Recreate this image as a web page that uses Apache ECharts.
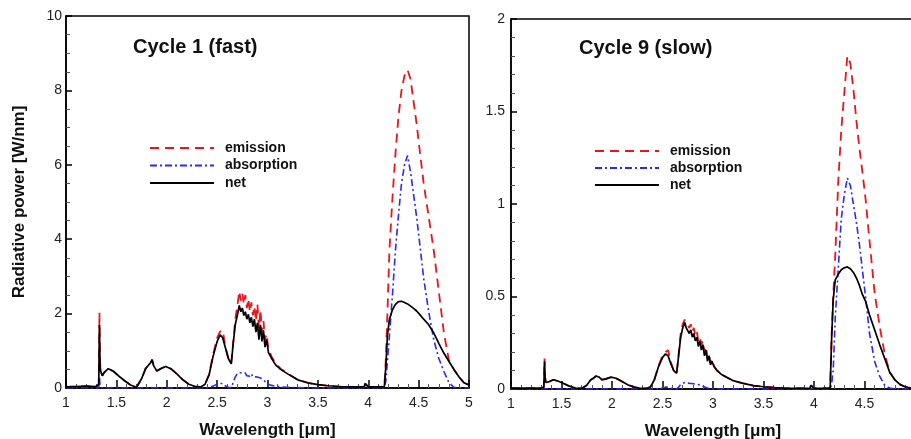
<!DOCTYPE html>
<html>
<head>
<meta charset="utf-8">
<script src="https://cdn.jsdelivr.net/npm/echarts@6/dist/echarts.min.js"></script>
<style>
html,body{margin:0;padding:0;background:#fff;}
#chart{width:911px;height:439px;}
</style>
</head>
<body>
<div id="chart"></div>
<script>
// ---- data ----
const wavelength = [1.00,1.10,1.20,1.30, 1.325,1.332,1.338,1.345, 1.36,1.38,1.42,1.47, 1.52,1.58,1.64,1.70,
  1.75,1.79,1.82,1.84, 1.855,1.87,1.90,1.94, 1.99,2.04,2.10,2.16, 2.22,2.28,2.34,2.38,
  2.42,2.46,2.50,2.53, 2.555,2.58,2.61,2.64, 2.66,2.68,2.70,2.72, 2.735,2.75,2.765,2.78,
  2.795,2.81,2.825,2.84, 2.855,2.87,2.885,2.90, 2.915,2.93,2.945,2.96, 2.975,2.99,3.01,3.04,
  3.08,3.13,3.20,3.30, 3.40,3.50,3.60,3.70, 3.80,3.90,3.96,3.97, 4.00,4.10,4.16,4.175,
  4.19,4.21,4.24,4.27, 4.30,4.33,4.36,4.39, 4.42,4.45,4.48,4.51, 4.55,4.60,4.65,4.70,
  4.75,4.80,4.85,4.90, 4.95,5.00];

const cycle1Net = [0.03,0.04,0.05,0.04, 0.10,1.69,0.60,0.45, 0.33,0.42,0.52,0.45, 0.33,0.20,0.08,0.02,
  0.25,0.52,0.62,0.68, 0.76,0.60,0.46,0.52, 0.58,0.52,0.38,0.22, 0.10,0.04,0.03,0.10,
  0.35,0.85,1.25,1.43, 1.35,1.10,0.80,0.65, 1.20,1.70,1.95,2.22, 2.05,2.15,1.95,2.05,
  1.85,1.98,1.75,1.90, 1.65,1.85,1.50,1.75, 1.30,1.70,1.25,1.55, 1.10,1.30,0.95,0.80,
  0.62,0.50,0.38,0.22, 0.14,0.09,0.06,0.04, 0.03,0.03,0.03,0.12, 0.03,0.03,0.04,0.60,
  1.40,1.85,2.10,2.25, 2.32,2.33,2.30,2.26, 2.20,2.14,2.07,1.98, 1.85,1.70,1.48,1.20,
  0.94,0.72,0.50,0.30, 0.14,0.08];

const cycle1Emission = [0.03,0.04,0.05,0.04, 0.10,2.02,0.70,0.45, 0.33,0.42,0.52,0.45, 0.33,0.20,0.08,0.02,
  0.25,0.52,0.62,0.68, 0.76,0.60,0.46,0.52, 0.58,0.52,0.38,0.22, 0.10,0.04,0.03,0.10,
  0.37,0.90,1.35,1.52, 1.55,1.15,0.82,0.66, 1.25,1.85,2.20,2.60, 2.35,2.55,2.25,2.50,
  2.15,2.40,2.05,2.30, 1.95,2.20,1.80,2.25, 1.60,2.10,1.50,1.80, 1.30,1.45,1.05,0.85,
  0.66,0.52,0.39,0.22, 0.14,0.09,0.06,0.04, 0.03,0.03,0.03,0.12, 0.03,0.03,0.04,0.80,
  2.00,3.70,5.10,6.30, 7.30,8.00,8.40,8.55, 8.30,7.70,7.10,6.40, 5.50,4.60,3.70,2.60,
  1.50,0.75,0.50,0.30, 0.14,0.08];

const cycle1Absorption = [0,0,0,0, 0,0.30,0.05,0.01, 0,0,0,0, 0,0,0,0,
  0,0,0,0, 0,0,0,0, 0,0,0,0, 0,0,0,0,
  0.02,0.05,0.10,0.12, 0.12,0.06,0.02,0.01, 0.15,0.30,0.38,0.42, 0.38,0.40,0.35,0.40,
  0.33,0.38,0.32,0.38, 0.30,0.35,0.30,0.33, 0.28,0.30,0.25,0.22, 0.18,0.14,0.10,0.07,
  0.05,0.03,0.02,0.01, 0,0,0,0, 0,0,0,0, 0,0,0,0.20,
  0.70,1.40,2.50,3.70, 4.65,5.50,6.00,6.25, 5.80,5.20,4.60,3.90, 2.95,2.05,1.30,0.80,
  0.45,0.15,0.02,0, 0,0];

const cycle9Net = [0.005,0.005,0.005,0.005, 0.010,0.150,0.060,0.035, 0.030,0.040,0.050,0.042, 0.030,0.015,0.005,0.003,
  0.020,0.050,0.060,0.070, 0.078,0.065,0.050,0.055, 0.064,0.058,0.040,0.022, 0.010,0.004,0.003,0.010,
  0.050,0.120,0.170,0.190, 0.180,0.140,0.100,0.085, 0.180,0.280,0.330,0.360, 0.330,0.340,0.300,0.320,
  0.280,0.300,0.260,0.280, 0.230,0.260,0.210,0.240, 0.180,0.210,0.150,0.180, 0.130,0.150,0.120,0.100,
  0.080,0.065,0.045,0.030, 0.018,0.012,0.008,0.005, 0.004,0.004,0.004,0.020, 0.004,0.004,0.005,0.280,
  0.480,0.590,0.620,0.645, 0.655,0.660,0.650,0.630, 0.600,0.560,0.510,0.475, 0.400,0.320,0.240,0.165,
  0.090,0.050,0.025,0.012, 0.006,0.005];

const cycle9Emission = [0.005,0.005,0.005,0.005, 0.010,0.165,0.065,0.035, 0.030,0.040,0.050,0.042, 0.030,0.015,0.005,0.003,
  0.020,0.050,0.060,0.070, 0.078,0.065,0.050,0.055, 0.064,0.058,0.040,0.022, 0.010,0.004,0.003,0.010,
  0.052,0.125,0.180,0.200, 0.210,0.150,0.100,0.085, 0.190,0.300,0.350,0.375, 0.360,0.370,0.330,0.350,
  0.310,0.330,0.290,0.310, 0.260,0.280,0.240,0.260, 0.200,0.230,0.170,0.190, 0.140,0.160,0.125,0.100,
  0.080,0.065,0.045,0.030, 0.018,0.012,0.008,0.005, 0.004,0.004,0.004,0.020, 0.004,0.004,0.005,0.300,
  0.500,0.720,1.120,1.400, 1.600,1.800,1.760,1.620, 1.450,1.300,1.170,1.030, 0.800,0.520,0.340,0.190,
  0.090,0.050,0.025,0.012, 0.006,0.005];

const cycle9Absorption = [0,0,0,0, 0,0.010,0,0, 0,0,0,0, 0,0,0,0,
  0,0,0,0, 0,0,0,0, 0,0,0,0, 0,0,0,0,
  0,0,0.005,0.010, 0.010,0.005,0,0, 0.010,0.025,0.030,0.035, 0.030,0.032,0.028,0.030,
  0.026,0.028,0.024,0.025, 0.020,0.022,0.018,0.015, 0.010,0.008,0.005,0.003, 0,0,0,0,
  0,0,0,0, 0,0,0,0, 0,0,0,0, 0,0,0,0.030,
  0.100,0.380,0.650,0.920, 1.050,1.140,1.100,1.000, 0.900,0.780,0.640,0.500, 0.300,0.150,0.070,0.020,
  0.005,0,0,0, 0,0];

const panelTitles = ['Cycle 1 (fast)', 'Cycle 9 (slow)'];
const seriesNames = ['emission', 'absorption', 'net'];
const xAxisName = 'Wavelength [\u03bcm]';
const yAxisName = 'Radiative power [W/nm]';

// ---- chart ----
const FONT = '"Liberation Sans", Arial, Helvetica, sans-serif';
const pairs = (xs, ys) => xs.map((x, i) => [x, ys[i]]);

const styles = {
  emission: {color: '#e8151b', width: 1.8, type: [9, 6]},
  absorption: {color: '#2a2af5', width: 1.6, type: [7, 3, 2, 3]},
  net: {color: '#000000', width: 1.7, type: 'solid'}
};

function mkSeries(name, gi, ys) {
  return {
    name: name, type: 'line', xAxisIndex: gi, yAxisIndex: gi,
    data: pairs(wavelength, ys), showSymbol: false, symbol: 'none',
    lineStyle: styles[name], itemStyle: {color: styles[name].color},
    silent: true
  };
}

function mkX(gi) {
  return {
    gridIndex: gi, type: 'value', min: 1, max: 5, interval: 0.5,
    axisLine: {lineStyle: {color: '#000', width: 1.5}},
    axisTick: {inside: true, length: 8, lineStyle: {color: '#000', width: 1.5}},
    minorTick: {show: true, splitNumber: 5, length: 4, lineStyle: {color: '#555', width: 1}},
    splitLine: {show: false},
    axisLabel: {fontSize: 14, color: '#222', margin: 8, fontFamily: FONT},
    name: xAxisName, nameLocation: 'middle', nameGap: 34,
    nameTextStyle: {fontSize: 17, fontWeight: 'bold', color: '#111', fontFamily: FONT}
  };
}

function mkLegend(left, top, gap) {
  return {
    orient: 'vertical', left: left, top: top, padding: 0, itemWidth: 64, itemHeight: 14, itemGap: gap,
    selectedMode: false, data: seriesNames,
    itemStyle: {opacity: 0, color: 'transparent', borderWidth: 0},
    textStyle: {fontSize: 14, fontWeight: 'bold', color: '#111', fontFamily: FONT, padding: [0, 0, 0, 6]}
  };
}

const chart = echarts.init(document.getElementById('chart'), null, {renderer: 'canvas'});
const option = {
  animation: false,
  backgroundColor: '#fff',
  title: [
    {text: panelTitles[0], left: 133, top: 37, padding: 0,
     textStyle: {fontSize: 20, fontWeight: 'bold', color: '#111', fontFamily: FONT}},
    {text: panelTitles[1], left: 579, top: 38, padding: 0,
     textStyle: {fontSize: 20, fontWeight: 'bold', color: '#111', fontFamily: FONT}}
  ],
  legend: [mkLegend(149, 141, 3.5), mkLegend(594, 144, 3)],
  grid: [
    {left: 66, top: 16, width: 403, height: 372, show: true, borderColor: '#000', borderWidth: 1.5,
     backgroundColor: 'transparent', outerBoundsMode: 'none', containLabel: false},
    {left: 511, top: 19, width: 404, height: 370, show: true, borderColor: '#000', borderWidth: 1.5,
     backgroundColor: 'transparent', outerBoundsMode: 'none', containLabel: false}
  ],
  xAxis: [mkX(0), mkX(1)],
  yAxis: [
    {gridIndex: 0, type: 'value', min: 0, max: 10, interval: 2,
     axisLine: {show: true, lineStyle: {color: '#000', width: 1.5}},
     axisTick: {show: true, inside: true, length: 6, lineStyle: {color: '#000', width: 1.5}},
     minorTick: {show: true, splitNumber: 4, length: 4, lineStyle: {color: '#555', width: 1}},
     splitLine: {show: false},
     axisLabel: {fontSize: 14, color: '#222', margin: 4, fontFamily: FONT},
     name: yAxisName, nameLocation: 'middle', nameGap: 38,
     nameTextStyle: {fontSize: 17, fontWeight: 'bold', color: '#111', fontFamily: FONT}},
    {gridIndex: 1, type: 'value', min: 0, max: 2, interval: 0.5,
     axisLine: {show: true, lineStyle: {color: '#000', width: 1.5}},
     axisTick: {show: true, inside: true, length: 6, lineStyle: {color: '#000', width: 1.5}},
     minorTick: {show: true, splitNumber: 5, length: 4, lineStyle: {color: '#555', width: 1}},
     splitLine: {show: false},
     axisLabel: {fontSize: 14, color: '#222', margin: 6, fontFamily: FONT}}
  ],
  series: [
    mkSeries('emission', 0, cycle1Emission),
    mkSeries('absorption', 0, cycle1Absorption),
    mkSeries('net', 0, cycle1Net),
    mkSeries('emission', 1, cycle9Emission),
    mkSeries('absorption', 1, cycle9Absorption),
    mkSeries('net', 1, cycle9Net)
  ]
};
chart.setOption(option);
</script>
</body>
</html>
